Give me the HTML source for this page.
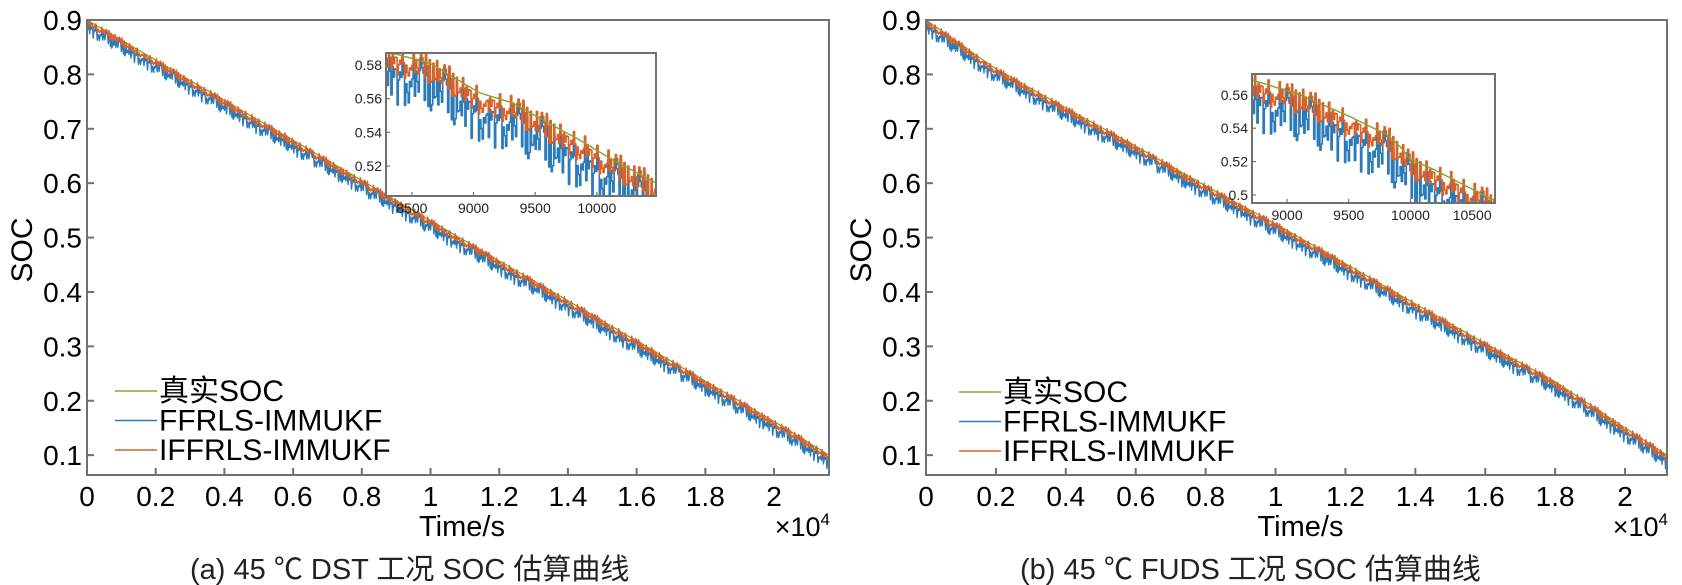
<!DOCTYPE html>
<html><head><meta charset="utf-8"><style>
html,body{margin:0;padding:0;background:#fff;}
svg{display:block;font-family:"Liberation Sans","Noto Sans CJK SC",sans-serif;}
</style></head><body>
<svg id="fig" width="1682" height="585" viewBox="0 0 1682 585" xmlns="http://www.w3.org/2000/svg"></svg>
<script>
// ---- data ----
const mainTicksX = [0,0.2,0.4,0.6,0.8,1,1.2,1.4,1.6,1.8,2];
const mainTicksY = [0.1,0.2,0.3,0.4,0.5,0.6,0.7,0.8,0.9];
const dstTimes = [0,2000,4000,6000,8000,10000,12000,14000,16000,18000,20000,21600];
const dstTrue  = [0.9,0.826,0.752,0.679,0.605,0.531,0.457,0.384,0.31,0.236,0.162,0.1];
const fudsTimes = [0,2000,4000,6000,8000,10000,12000,14000,16000,18000,20000,21200];
const fudsTrue  = [0.9,0.81,0.738,0.668,0.595,0.525,0.452,0.378,0.305,0.235,0.15,0.1];
const dstInsetTimes = [8290,8646,9051,9318,9590,9860,10130,10480];
const dstInsetTrue  = [0.588,0.581,0.5634,0.5574,0.5462,0.5355,0.5236,0.51];
const fudsInsetTimes = [8716,9105,9510,9810,9916,9997,10183,10685];
const fudsInsetTrue  = [0.569,0.56,0.547,0.536,0.529,0.5214,0.5155,0.4965];
const dstInsetTicksX = [8500,9000,9500,10000];
const dstInsetTicksY = [0.52,0.54,0.56,0.58];
const fudsInsetTicksX = [9000,9500,10000,10500];
const fudsInsetTicksY = [0.5,0.52,0.54,0.56];
const blueErr = [-0.012,-0.004,-0.021,-0.008,-0.026,-0.002,-0.015,-0.019,-0.006,-0.029,-0.011,0.003,-0.017,-0.009,-0.024,-0.013,-0.001,-0.02,-0.007,-0.027,-0.014,-0.005,-0.022,-0.01,-0.018,0.002,-0.016,-0.025,-0.008,-0.012,-0.03,-0.006,-0.019,-0.011,-0.003,-0.023,-0.014,-0.009,-0.028,-0.007,-0.013];
const orangeErr = [-0.004,0.002,-0.009,-0.001,-0.012,0.004,-0.006,-0.008,0.001,-0.013,-0.003,0.005,-0.007,-0.002,-0.01,-0.005,0.003,-0.009,-0.001,-0.011,-0.006,0.002,-0.008,-0.003,-0.007,0.004,-0.005,-0.01,-0.002,-0.004,-0.012,0.001,-0.008,-0.004,0.003,-0.009,-0.006,-0.002,-0.011,0.0,-0.005];
const legendLabels = ["真实SOC","FFRLS-IMMUKF","IFFRLS-IMMUKF"];
const C_GREEN="#77ac30", C_BLUE="#2b7bba", C_ORANGE="#d9622b";

const NS="http://www.w3.org/2000/svg";
const svg=document.getElementById('fig');
function mk(tag,attrs,parent){const e=document.createElementNS(NS,tag);for(const k in attrs)e.setAttribute(k,attrs[k]);(parent||svg).appendChild(e);return e;}
function interp(ts,vs,t){if(t<=ts[0])return vs[0];for(let i=1;i<ts.length;i++){if(t<=ts[i]){const f=(t-ts[i-1])/(ts[i]-ts[i-1]);return vs[i-1]+f*(vs[i]-vs[i-1]);}}return vs[vs.length-1];}
function pick(err,k){return err[(k*17+Math.floor(k/err.length)*5)%err.length];}

function drawSeries(g,ts,vs,t0,t1,step,sx,sy,err,scale,color,w,name,clip){
  let d="";let k=0;let prevY=null;
  for(let t=t0;t<=t1+1e-6;t+=step,k++){
    let v=interp(ts,vs,t)+(err?pick(err,k)*scale:0);
    const x=sx(Math.min(t,t1)),y=sy(v);
    if(d===""){d="M"+x.toFixed(1)+","+y.toFixed(1);}
    else{ if(err&&clip){d+=" L"+x.toFixed(1)+","+prevY.toFixed(1);} d+=" L"+x.toFixed(1)+","+y.toFixed(1);}
    prevY=y;
  }
  const p=mk('path',{d:d,fill:'none',stroke:color,'stroke-width':w,'stroke-linejoin':'round'},g);
  
  
  return p;
}

function panel(o){
  const g=mk('g',{});
  
  
  const L=o.L,R=o.R,T=20,B=475;
  const xmax=o.xmax;
  const sx=t=>L+(t/xmax)*(R-L);
  const ymin=0.0635,ymax=0.9;
  const sy=v=>T+(ymax-v)/(ymax-ymin)*(B-T);
  const cid='clip-'+o.id;
  const cp=mk('clipPath',{id:cid},g);mk('rect',{x:L,y:T,width:R-L,height:B-T},cp);
  const plot=mk('g',{'clip-path':'url(#'+cid+')'},g);
  drawSeries(plot,o.times,o.truth,0,xmax,30,sx,sy,null,0,C_GREEN,1.3,'true-soc-line');
  drawSeries(plot,o.times,o.truth,0,xmax,20,sx,sy,blueErr,0.9,C_BLUE,1.4,'ffrls-immukf-line');
  drawSeries(plot,o.times,o.truth,0,xmax,20,sx,sy,orangeErr,0.9,C_ORANGE,1.4,'iffrls-immukf-line');
  const box=mk('rect',{x:L,y:T,width:R-L,height:B-T,fill:'none',stroke:'#707070','stroke-width':2},g);
  
  mainTicksX.forEach(v=>{const x=sx(v*10000);
    mk('line',{x1:x,x2:x,y1:B,y2:B-7,stroke:'#707070','stroke-width':2},g);
    const t=mk('text',{x:x,y:506,'font-size':28,'text-anchor':'middle',fill:'#000'},g);t.textContent=String(v);
    });
  mainTicksY.forEach(v=>{const y=sy(v);
    mk('line',{x1:L,x2:L+7,y1:y,y2:y,stroke:'#707070','stroke-width':2},g);
    const t=mk('text',{x:L-5,y:y+10,'font-size':28,'text-anchor':'end',fill:'#000'},g);t.textContent=v.toFixed(1);
    });
  const xt=mk('text',{x:(L+R)/2+4,y:536,'font-size':29,'text-anchor':'middle'},g);xt.textContent='Time/s';
  
  const ex=mk('text',{x:R+1,y:536,'font-size':27,'text-anchor':'end'},g);
  ex.innerHTML='×10<tspan dy="-11" font-size="17">4</tspan>';
  
  const yt=mk('text',{x:0,y:0,'font-size':30,'text-anchor':'middle',transform:'translate('+(L-55)+',250) rotate(-90)'},g);yt.textContent='SOC';
  
  const cap=mk('text',{x:o.capX,y:579,'font-size':29,'text-anchor':'start',fill:'#222','xml:space':'preserve'},g);cap.textContent=o.caption;
  
  const lg=mk('g',{},g);
  const cols=[C_GREEN,C_BLUE,C_ORANGE];
  legendLabels.forEach((lab,i)=>{const by=o.legY+i*29.5;
    const ln=mk('line',{x1:o.legX,x2:o.legX+42,y1:by-10,y2:by-10,stroke:cols[i],'stroke-width':1.5},lg);
    
    const t=mk('text',{x:o.legX+44,y:by,'font-size':30,fill:'#000'},lg);t.textContent=lab;
    });
  const I=o.inset;
  const ig=mk('g',{},g);
  mk('rect',{x:I.L,y:I.T,width:I.R-I.L,height:I.B-I.T,fill:'#fff'},ig);
  const isx=t=>I.L+(t-I.t0)/(I.t1-I.t0)*(I.R-I.L);
  const isy=v=>I.T+(I.v1-v)/(I.v1-I.v0)*(I.B-I.T);
  const icid='iclip-'+o.id;
  const icp=mk('clipPath',{id:icid},ig);mk('rect',{x:I.L,y:I.T,width:I.R-I.L,height:I.B-I.T},icp);
  const ip=mk('g',{'clip-path':'url(#'+icid+')'},ig);
  drawSeries(ip,I.times,I.truth,I.t0,I.t1,10,isx,isy,blueErr,1.0,C_BLUE,1.6,'inset-ffrls-line',true);
  drawSeries(ip,I.times,I.truth,I.t0,I.t1,10,isx,isy,orangeErr,1.0,C_ORANGE,1.6,'inset-iffrls-line',true);
  drawSeries(ip,I.times,I.truth,I.t0,I.t1,10,isx,isy,null,0,C_GREEN,1.4,'inset-true-soc-line');
  mk('rect',{x:I.L,y:I.T,width:I.R-I.L,height:I.B-I.T,fill:'none',stroke:'#707070','stroke-width':2},ig);
  I.tx.forEach(v=>{const x=isx(v);
    mk('line',{x1:x,x2:x,y1:I.B,y2:I.B-4,stroke:'#707070','stroke-width':1.2},ig);
    const t=mk('text',{x:x,y:I.B+17,'font-size':14,'text-anchor':'middle',fill:'#222'},ig);t.textContent=String(v);
    });
  I.ty.forEach(v=>{const y=isy(v);
    mk('line',{x1:I.L,x2:I.L+4,y1:y,y2:y,stroke:'#707070','stroke-width':1.2},ig);
    const t=mk('text',{x:I.L-4,y:y+5,'font-size':14,'text-anchor':'end',fill:'#222'},ig);t.textContent=String(v);
    });
}

panel({id:'dst',L:87,R:829,xmax:21600,times:dstTimes,truth:dstTrue,capX:190,caption:'(a) 45 ℃ DST 工况 SOC 估算曲线',legX:115,legY:401,
  inset:{L:386,R:656,T:53,B:196,t0:8290,t1:10480,v0:0.5022,v1:0.5871,times:dstInsetTimes,truth:dstInsetTrue,tx:dstInsetTicksX,ty:dstInsetTicksY}});
panel({id:'fuds',L:926,R:1667,xmax:21200,times:fudsTimes,truth:fudsTrue,capX:1020,caption:'(b) 45 ℃ FUDS 工况 SOC 估算曲线',legX:959,legY:402,
  inset:{L:1252,R:1495,T:74,B:203,t0:8716,t1:10685,v0:0.4952,v1:0.5725,times:fudsInsetTimes,truth:fudsInsetTrue,tx:fudsInsetTicksX,ty:fudsInsetTicksY}});
</script>
</body></html>
